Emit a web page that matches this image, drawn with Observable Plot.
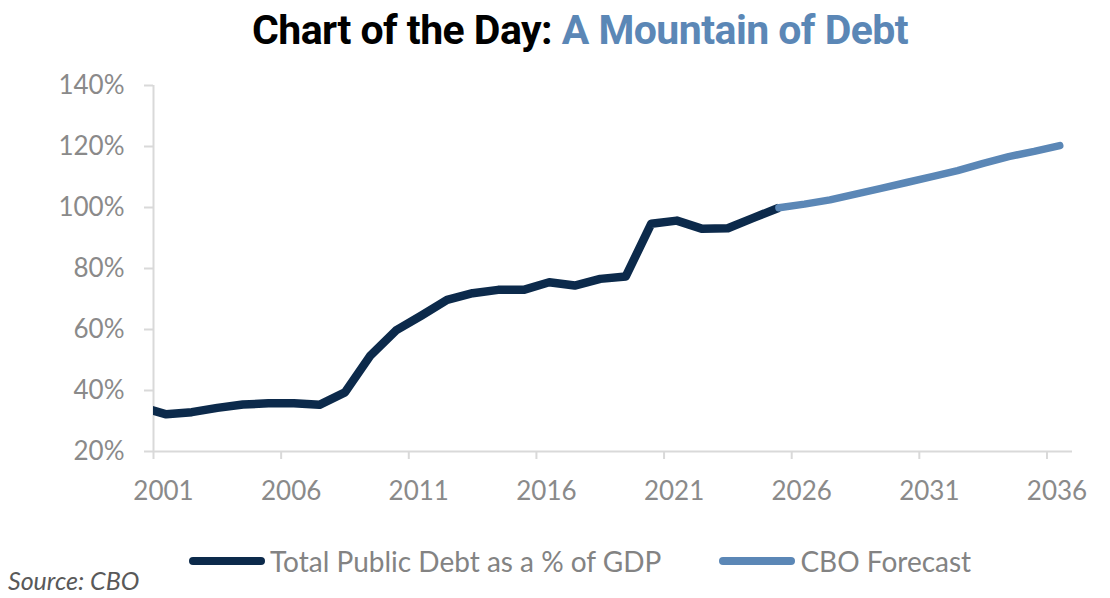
<!DOCTYPE html>
<html><head><meta charset="utf-8">
<script src="https://cdn.jsdelivr.net/npm/d3@7"></script>
<script src="https://cdn.jsdelivr.net/npm/@observablehq/plot@0.6"></script>
<style>
html,body{margin:0;padding:0;background:#fff}
body{width:1110px;height:598px;position:relative;overflow:hidden;font-family:Lato,"Noto Sans",sans-serif}
#title{position:absolute;left:252px;top:6px;white-space:nowrap;font-family:Roboto,sans-serif;font-weight:700;font-size:41px;letter-spacing:-0.55px;line-height:48px}
#chart{position:absolute;left:0;top:60px}
#legend{position:absolute;left:189px;top:545px;height:32px;display:flex;align-items:center;color:#838383;font-size:28px;white-space:nowrap}
.sw{display:inline-block;width:76px;height:8px;border-radius:4px;margin-right:5px}
.item{display:flex;align-items:center}
#source{position:absolute;left:8px;top:565px;color:#595959;font-style:italic;font-size:25px;white-space:nowrap}
</style></head><body>
<div id="title"></div>
<div id="chart"></div>
<div id="legend"></div>
<div id="source"></div>
<script>
const titleParts = ["Chart of the Day:", "A Mountain of Debt"];
const titleColors = ["#000000", "#5b87b6"];
const historyYears = [2000,2001,2002,2003,2004,2005,2006,2007,2008,2009,2010,2011,2012,2013,2014,2015,2016,2017,2018,2019,2020,2021,2022,2023,2024,2025];
const historyDebt  = [34.6,32.2,32.9,34.3,35.4,35.8,35.8,35.3,39.4,51.5,59.7,64.6,69.7,71.9,73.0,73.0,75.5,74.4,76.6,77.4,94.7,95.7,93.0,93.2,96.6,99.9];
const forecastYears = [2025,2026,2027,2028,2029,2030,2031,2032,2033,2034,2035,2036];
const forecastDebt  = [99.9,101.1,102.5,104.4,106.3,108.2,110.1,112.1,114.5,116.7,118.4,120.3];
const xTicks = [2001,2006,2011,2016,2021,2026,2031,2036];
const yTicks = [20,40,60,80,100,120,140];
const seriesNames = ["Total Public Debt as a % of GDP", "CBO Forecast"];
const seriesColors = ["#0c2a4b", "#5b87b6"];
const sourceText = "Source: CBO";

document.getElementById("title").innerHTML =
  `<span style="color:${titleColors[0]}">${titleParts[0]}</span> <span style="color:${titleColors[1]}">${titleParts[1]}</span>`;

const history = historyYears.map((y, i) => ({year: y, value: historyDebt[i]}));
const forecast = forecastYears.map((y, i) => ({year: y, value: forecastDebt[i]}));
const axisGrey = "#d9d9d9";
const labelGrey = "#8a8a8a";

const chart = Plot.plot({
  width: 1110,
  height: 470,
  marginLeft: 153,
  marginRight: 38,
  marginTop: 25,
  marginBottom: 79,
  style: {fontFamily: "Lato, sans-serif", background: "transparent"},
  x: {domain: [2001, 2037], label: null},
  y: {domain: [20, 140], label: null},
  marks: [
    Plot.ruleY([20], {stroke: axisGrey, strokeWidth: 2}),
    Plot.ruleX([2001], {stroke: axisGrey, strokeWidth: 2}),
    Plot.axisX({ticks: xTicks, tickFormat: () => "", tickSize: 8, stroke: axisGrey, strokeWidth: 2, label: null}),
    Plot.axisX({ticks: xTicks, tickFormat: d => String(d), tickSize: 0, tickPadding: 30, dx: 10, fill: labelGrey, fontSize: 26, label: null}),
    Plot.axisY({ticks: yTicks, tickFormat: d => d + "%", tickSize: 9, tickPadding: 20, stroke: axisGrey, strokeWidth: 2, fill: labelGrey, fontSize: 26, label: null}),
    Plot.line(history, {x: d => d.year + 0.5, y: "value", stroke: seriesColors[0], strokeWidth: 8.5, strokeLinejoin: "round", strokeLinecap: "butt", clip: true}),
    Plot.line(forecast, {x: d => d.year + 0.5, y: "value", stroke: seriesColors[1], strokeWidth: 7.5, strokeLinejoin: "round", strokeLinecap: "round", clip: true})
  ]
});
document.getElementById("chart").appendChild(chart);

const legend = document.getElementById("legend");
legend.innerHTML = seriesNames.map((n, i) =>
  `<div class="item" style="margin-right:${i === 0 ? 58 : 0}px"><span class="sw" style="background:${seriesColors[i]}"></span><span>${n}</span></div>`
).join("");
document.getElementById("source").textContent = sourceText;
</script>
</body></html>
